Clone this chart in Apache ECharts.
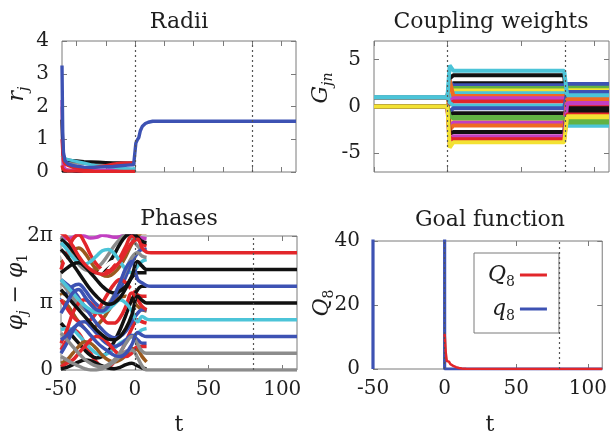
<!DOCTYPE html>
<html><head><meta charset="utf-8">
<script src="https://cdn.jsdelivr.net/npm/echarts@6/dist/echarts.min.js"></script>
<style>html,body{margin:0;padding:0;background:#fff}#c{width:610px;height:437px}</style>
</head><body><div id="c"></div>
<script>
const FONT = 'DejaVu Serif';
const TXT = '#1e1e1e';
const FRAME = '#7a7a7a';

const panelTitles = ['Radii', 'Coupling weights', 'Phases', 'Goal function'];
const markTimes = [0, 80];
const xTicksTopLeft = [-40, -20, 0, 20, 40, 60, 80, 100];
const xTicks = [-50, 0, 50, 100];
const gTicks = [-5, 0, 5];
const phaseTickLabels = ['0', 'π', '2π'];

const C = {
  red: '#e2262a', blue: '#3d52b3', black: '#111111', cyan: '#4cc4d8', gray: '#8c8c8c',
  brown: '#9a5a1e', magenta: '#c23fc2', yellow: '#f3e233', green: '#62b243', orange: '#ef6a22', white: '#ffffff'
};

// ---------- Radii ----------
const radiiTimes = [-50, -49.5, -49, -48, -46, -43, -40, -35, -30, -25, -20, -15, -10, -5, -1, 0];
const radiiGray    = [2.0, 0.8, 0.5, 0.35, 0.3, 0.28, 0.27, 0.26, 0.25, 0.25, 0.25, 0.25, 0.24, 0.24, 0.24, 0.24];
const radiiBrown   = [0.1, 0.08, 0.07, 0.06, 0.06, 0.05, 0.04, 0.04, 0.03, 0.03, 0.03, 0.03, 0.03, 0.03, 0.03, 0.03];
const radiiMagenta = [2.2, 0.5, 0.2, 0.1, 0.06, 0.05, 0.04, 0.04, 0.05, 0.05, 0.06, 0.1, 0.14, 0.1, 0.06, 0.05];
const radiiBlack   = [1.6, 0.7, 0.5, 0.4, 0.36, 0.35, 0.34, 0.32, 0.31, 0.3, 0.29, 0.28, 0.28, 0.27, 0.27, 0.27];
const radiiBlackLow= [0.05, 0.04, 0.03, 0.03, 0.03, 0.03, 0.02, 0.02, 0.02, 0.03, 0.04, 0.03, 0.02, 0.02, 0.02, 0.02];
const radiiCyan    = [0.5, 0.45, 0.42, 0.4, 0.38, 0.35, 0.32, 0.27, 0.22, 0.18, 0.17, 0.15, 0.12, 0.1, 0.1, 0.12];
const radiiRed     = [1.0, 0.6, 0.35, 0.25, 0.2, 0.15, 0.12, 0.1, 0.12, 0.16, 0.2, 0.24, 0.27, 0.28, 0.28, 0.28];
const radiiRedLow  = [0.2, 0.1, 0.05, 0.04, 0.03, 0.03, 0.03, 0.02, 0.02, 0.02, 0.02, 0.02, 0.02, 0.02, 0.02, 0.02];
const radiiBlueTimes = [-50, -49.5, -49, -48, -46, -43, -40, -35, -30, -25, -20, -15, -10, -5, -1, 0, 0.5, 1.5, 2.5, 3.5, 5, 7, 9, 12, 20, 110];
const radiiBlue      = [3.25, 1.2, 0.6, 0.35, 0.25, 0.2, 0.18, 0.15, 0.14, 0.15, 0.16, 0.17, 0.19, 0.21, 0.22, 0.25, 0.88, 0.98, 1.05, 1.25, 1.4, 1.48, 1.52, 1.55, 1.55, 1.55];

// ---------- Coupling weights ----------
const couplingTimes = [-50, 0, 1.5, 4, 79.5, 81.5, 110];
const gColors = ['black','black','blue','green','yellow','cyan','orange','magenta','red','cyan','blue','black','green','yellow','magenta','orange','black','magenta','red','green','cyan','yellow'];
const gPre    = [1, 1, 1, 1, 0, 1, 1, 0, 1, 1, 0, 0, 0, 0, 0, 0, 0, 0, 0, 0, 1, 0];
const gKick   = [3.0, 2.2, 2.6, 1.6, 1.2, 1.0, 2.8, 0.5, 0.2, 0.4, -0.6, -1.0, -1.4, -1.8, -2.2, -2.5, -2.9, -4.2, -3.4, -1.0, 4.4, -4.4];
const gMid    = [3.33, 2.48, 2.27, 1.99, 1.70, 1.42, 1.13, 0.89, 0.53, 0.11, -0.18, -0.71, -1.13, -1.42, -1.70, -2.02, -2.73, -3.19, -3.51, -1.25, 3.83, -3.83];
const gPost   = [-0.3, -0.5, 2.4, 2.0, 1.75, 1.0, 0.75, 0.5, 0.15, -2.05, 1.55, -0.45, -1.45, -1.15, 0.45, 0.8, -0.2, 0.35, -0.85, -1.7, 1.2, -1.05];

// ---------- Phases (units of pi) ----------
const phaseTimes = [-50, -46, -42, -38, -34, -30, -26, -22, -18, -14, -10, -6, -2, 2, 5, 8];
const phaseEndTimes = [11, 110];
const phaseExtraColors = ['magenta','gray','brown','red','black','white','cyan','blue','gray','brown','red','white','red','black','cyan','brown','blue','red','black','blue','black','red'];
const phaseExtra = [
  [1.98, 1.96, 1.98, 2.02, 2.0, 1.97, 1.98, 2.01, 2.0, 1.98, 1.99, 2.02, 2.0, 1.98, 1.97, 1.96],
  [1.98, 1.85, 1.7, 1.58, 1.5, 1.48, 1.52, 1.6, 1.72, 1.85, 1.95, 2.02, 1.95, 1.85, 1.8, 1.8],
  [1.6, 1.68, 1.78, 1.82, 1.75, 1.62, 1.5, 1.42, 1.4, 1.45, 1.55, 1.7, 1.88, 2.0, 2.05, 2.05],
  [1.5, 1.75, 1.95, 2.02, 1.9, 1.72, 1.58, 1.5, 1.48, 1.55, 1.68, 1.85, 2.0, 1.95, 1.88, 1.85],
  [1.95, 1.88, 1.78, 1.66, 1.55, 1.48, 1.45, 1.48, 1.58, 1.72, 1.88, 2.0, 2.05, 1.98, 1.92, 1.9],
  [1.75, 1.6, 1.45, 1.35, 1.3, 1.32, 1.4, 1.5, 1.58, 1.62, 1.6, 1.52, 1.45, 1.5, 1.55, 1.55],
  [1.9, 1.8, 1.68, 1.6, 1.58, 1.62, 1.7, 1.78, 1.8, 1.74, 1.62, 1.5, 1.45, 1.55, 1.62, 1.65],
  [1.05, 1.15, 1.25, 1.28, 1.2, 1.08, 0.98, 0.92, 0.95, 1.05, 1.2, 1.4, 1.6, 1.75, 1.8, 1.8],
  [1.3, 1.2, 1.08, 0.98, 0.9, 0.86, 0.86, 0.9, 0.98, 1.12, 1.3, 1.5, 1.68, 1.75, 1.7, 1.68],
  [1.15, 1.0, 0.85, 0.72, 0.65, 0.62, 0.66, 0.75, 0.88, 1.0, 1.08, 1.1, 1.05, 0.95, 0.9, 0.88],
  [1.05, 0.92, 0.8, 0.72, 0.7, 0.75, 0.85, 1.0, 1.15, 1.28, 1.35, 1.3, 1.2, 1.12, 1.1, 1.1],
  [1.1, 1.05, 0.95, 0.82, 0.7, 0.6, 0.55, 0.55, 0.6, 0.7, 0.85, 1.02, 1.2, 1.25, 1.2, 1.15],
  [0.3, 0.45, 0.6, 0.55, 0.4, 0.25, 0.12, 0.05, 0.05, 0.12, 0.25, 0.42, 0.62, 0.75, 0.72, 0.7],
  [0.7, 0.6, 0.5, 0.4, 0.3, 0.22, 0.18, 0.2, 0.28, 0.42, 0.6, 0.82, 1.05, 1.2, 1.25, 1.25],
  [0.6, 0.62, 0.6, 0.52, 0.42, 0.32, 0.25, 0.22, 0.25, 0.32, 0.4, 0.45, 0.5, 0.55, 0.6, 0.62],
  [0.1, 0.15, 0.25, 0.35, 0.42, 0.4, 0.32, 0.22, 0.15, 0.12, 0.15, 0.22, 0.32, 0.3, 0.2, 0.12],
  [0.25, 0.4, 0.58, 0.7, 0.72, 0.65, 0.55, 0.45, 0.38, 0.35, 0.38, 0.45, 0.52, 0.45, 0.4, 0.4],
  [0.05, 0.1, 0.15, 0.25, 0.35, 0.45, 0.5, 0.48, 0.4, 0.3, 0.22, 0.2, 0.25, 0.35, 0.35, 0.35],
  [0.02, 0.04, 0.08, 0.12, 0.15, 0.14, 0.1, 0.06, 0.03, 0.02, 0.04, 0.08, 0.1, 0.06, 0.03, 0.02],
  [1.35, 1.28, 1.2, 1.08, 0.95, 0.82, 0.7, 0.6, 0.52, 0.48, 0.5, 0.58, 0.72, 0.85, 0.9, 0.9],
  [1.45, 1.52, 1.58, 1.6, 1.55, 1.45, 1.35, 1.25, 1.18, 1.15, 1.18, 1.25, 1.38, 1.45, 1.45, 1.45],
  [0.4, 0.6, 0.85, 1.0, 1.05, 1.0, 0.9, 0.78, 0.7, 0.7, 0.78, 0.95, 1.15, 1.05, 0.95, 0.9]
];
const phaseMainColors = ['gray','gray','blue','cyan','black','blue','black','red'];
const phaseFinal = [0, 0.25, 0.5, 0.75, 1.0, 1.25, 1.5, 1.75];
const phaseMain = [
  [0.2, 0.15, 0.1, 0.06, 0.02, 0.0, 0.0, 0.02, 0.06, 0.12, 0.2, 0.28, 0.3, 0.18, 0.06, 0.0],
  [0.55, 0.45, 0.35, 0.25, 0.16, 0.1, 0.06, 0.05, 0.08, 0.15, 0.26, 0.4, 0.5, 0.38, 0.28, 0.25],
  [0.45, 0.52, 0.62, 0.68, 0.62, 0.52, 0.42, 0.34, 0.28, 0.22, 0.2, 0.25, 0.38, 0.56, 0.52, 0.5],
  [1.35, 1.25, 1.15, 1.05, 0.96, 0.9, 0.86, 0.86, 0.9, 0.98, 1.05, 1.0, 0.88, 0.72, 0.8, 0.76],
  [1.2, 1.1, 1.0, 0.9, 0.8, 0.7, 0.6, 0.52, 0.46, 0.45, 0.5, 0.62, 0.82, 1.1, 1.04, 1.0],
  [0.85, 1.0, 1.15, 1.2, 1.1, 0.98, 0.9, 0.88, 0.95, 1.1, 1.3, 1.52, 1.62, 1.35, 1.3, 1.26],
  [1.8, 1.7, 1.58, 1.45, 1.32, 1.2, 1.1, 1.02, 0.98, 1.0, 1.08, 1.22, 1.4, 1.62, 1.55, 1.5],
  [2.05, 1.98, 1.85, 1.7, 1.58, 1.5, 1.45, 1.43, 1.45, 1.52, 1.62, 1.76, 1.9, 1.95, 1.82, 1.76]
];

// ---------- Goal function ----------
const bigQTimes  = [0, 0.3, 0.8, 1.5, 2, 2.5, 3, 4, 5, 6, 7, 8, 9, 10, 12, 15, 110];
const bigQValues = [11, 9, 5, 2.5, 3, 2, 2.3, 1.5, 1.8, 1.0, 1.2, 0.6, 0.7, 0.3, 0.15, 0.05, 0];
const smallQTimes  = [-50, -50, -25, 0, 0, 110];
const smallQValues = [60, 0, null, 60, 0, 0];

// ---------- helpers ----------
const pts = (ts, vs) => ts.map((t, i) => [t, vs[i]]);
const rich = {
  i: { fontFamily: FONT, fontStyle: 'italic', fontSize: 22, color: TXT, lineHeight: 24 },
  r: { fontFamily: FONT, fontSize: 22, color: TXT, lineHeight: 24 },
  s: { fontFamily: FONT, fontStyle: 'italic', fontSize: 14, color: TXT, lineHeight: 14, padding: [12, 0, 0, 0], verticalAlign: 'top' },
  n: { fontFamily: FONT, fontSize: 14, color: TXT, lineHeight: 14, padding: [12, 0, 0, 0], verticalAlign: 'top' }
};
const tick = { show: true, inside: true, length: 5, lineStyle: { color: FRAME, width: 1 } };
const lbl = { fontFamily: FONT, fontSize: 20, color: TXT };
const noLine = { show: false, onZero: false };

const grids = [
  { left: 62, top: 41, width: 234, height: 131 },
  { left: 374, top: 41, width: 235, height: 131 },
  { left: 61, top: 236, width: 236, height: 134 },
  { left: 373, top: 241, width: 235, height: 128 }
].map(g => Object.assign(g, { show: true, borderColor: FRAME, borderWidth: 1, backgroundColor: 'transparent', containLabel: false }));

const xAxes = [], yAxes = [];
for (let g = 0; g < 4; g++) {
  const tv = g === 0 ? xTicksTopLeft : xTicks;
  const showLbl = g >= 2;
  xAxes.push({ type: 'value', gridIndex: g, min: -50, max: 110, position: 'bottom',
    axisLine: noLine, splitLine: { show: false },
    axisTick: Object.assign({ customValues: tv }, tick),
    axisLabel: Object.assign({ show: showLbl, customValues: xTicks, margin: 10 }, lbl) });
  xAxes.push({ type: 'value', gridIndex: g, min: -50, max: 110, position: 'top',
    axisLine: noLine, splitLine: { show: false },
    axisTick: Object.assign({ customValues: tv }, tick), axisLabel: { show: false } });
}
const yDefs = [
  { min: 0, max: 4, interval: 1 },
  { min: -7, max: 7, customValues: gTicks },
  { min: 0, max: 2, interval: 1 },
  { min: 0, max: 40, interval: 20 }
];
yDefs.forEach((d, g) => {
  const base = { type: 'value', gridIndex: g, min: d.min, max: d.max, splitLine: { show: false }, axisLine: noLine };
  if (d.interval) base.interval = d.interval;
  const tk = Object.assign({}, tick); if (d.customValues) tk.customValues = d.customValues;
  const lb = Object.assign({ margin: g === 2 ? 8 : 13 }, lbl);
  if (d.customValues) lb.customValues = d.customValues;
  if (g === 2) lb.formatter = v => phaseTickLabels[Math.round(v)];
  yAxes.push(Object.assign({}, base, { position: 'left', axisTick: tk, axisLabel: lb }));
  yAxes.push(Object.assign({}, base, { position: 'right', axisTick: tk, axisLabel: { show: false } }));
});

const series = [];
const mark = (g) => ({
  type: 'line', xAxisIndex: 2 * g, yAxisIndex: 2 * g, data: [], silent: true,
  markLine: { silent: true, symbol: 'none', label: { show: false }, animation: false,
    lineStyle: { type: [2, 3], color: '#555', width: 1.2 },
    data: markTimes.map(t => ({ xAxis: t })) }
});
const line = (g, data, color, width, extra) => Object.assign({
  type: 'line', xAxisIndex: 2 * g, yAxisIndex: 2 * g, data, showSymbol: false, symbol: 'none',
  lineStyle: { color, width }, itemStyle: { color }, silent: true, clip: true
}, extra || {});

// Radii
series.push(mark(0));
[[radiiGray, 'gray'], [radiiBrown, 'brown'], [radiiBlackLow, 'black'], [radiiMagenta, 'magenta'], [radiiBlack, 'black'],
 [radiiCyan, 'cyan'], [radiiRed, 'red'], [radiiRedLow, 'red']].forEach(([v, c]) =>
  series.push(line(0, pts(radiiTimes, v), C[c], 3.2)));
series.push(line(0, pts(radiiBlueTimes, radiiBlue), C.blue, 3.4));

// Coupling weights
series.push(mark(1));
gColors.forEach((c, i) => {
  const vals = [gPre[i], gPre[i], gKick[i], gMid[i], gMid[i], gPost[i], gPost[i]];
  series.push(line(1, pts(couplingTimes, vals), C[c], 4));
});

// Phases
series.push(mark(2));
phaseExtra.forEach((v, i) => series.push(line(2, pts(phaseTimes, v), C[phaseExtraColors[i]], 3.5, { smooth: 0.4 })));
phaseMain.forEach((v, i) => {
  const d = pts(phaseTimes, v).concat(phaseEndTimes.map(t => [t, phaseFinal[i]]));
  series.push(line(2, d, C[phaseMainColors[i]], 3.5, { smooth: 0.4 }));
});

// Goal function
series.push(mark(3));
series.push(line(3, pts(smallQTimes, smallQValues), C.blue, 3.2, { name: 'q8', connectNulls: false }));
series.push(line(3, pts(bigQTimes, bigQValues), C.red, 2.5, { name: 'Q8' }));

const titleTop = [11, 11, 208, 209];
const titleX = [179, 491, 179, 490];

const option = {
  animation: false,
  backgroundColor: '#fff',
  grid: grids,
  xAxis: xAxes,
  yAxis: yAxes,
  title: panelTitles.map((t, i) => ({ text: t, left: titleX[i], top: titleTop[i], textAlign: 'center', padding: 0,
    textStyle: { fontFamily: FONT, fontSize: 22, fontWeight: 'normal', color: TXT } })),
  legend: {
    data: ['Q8', 'q8'], orient: 'vertical', left: 474, top: 253, align: 'right',
    icon: 'rect', itemWidth: 27, itemHeight: 3, itemGap: 8,
    padding: [10, 12, 10, 14], backgroundColor: '#fff', borderColor: FRAME, borderWidth: 1, borderRadius: 0,
    formatter: n => n === 'Q8' ? '{i|Q}{n|8}' : '{i|q}{n|8}',
    textStyle: { fontFamily: FONT, fontSize: 22, color: TXT, rich }
  },
  graphic: [
    { type: 'text', x: 17, y: 94, rotation: Math.PI / 2, style: { text: '{i|r}{s|j}', rich, align: 'center', verticalAlign: 'middle', fill: TXT } },
    { type: 'text', x: 321, y: 88, rotation: Math.PI / 2, style: { text: '{i|G}{s|jn}', rich, align: 'center', verticalAlign: 'middle', fill: TXT } },
    { type: 'text', x: 16, y: 292, rotation: Math.PI / 2, style: { text: '{i|φ}{s|j}{r| − }{i|φ}{n|1}', rich, align: 'center', verticalAlign: 'middle', fill: TXT } },
    { type: 'text', x: 322, y: 303, rotation: Math.PI / 2, style: { text: '{i|Q}{n|8}', rich, align: 'center', verticalAlign: 'middle', fill: TXT } },
    { type: 'text', x: 179, y: 425, style: { text: 't', font: '22px "DejaVu Serif"', align: 'center', verticalAlign: 'middle', fill: TXT } },
    { type: 'text', x: 490, y: 425, style: { text: 't', font: '22px "DejaVu Serif"', align: 'center', verticalAlign: 'middle', fill: TXT } }
  ],
  series
};
const chart = echarts.init(document.getElementById('c'), null, { renderer: 'canvas' });
chart.setOption(option);
</script>
</body></html>
